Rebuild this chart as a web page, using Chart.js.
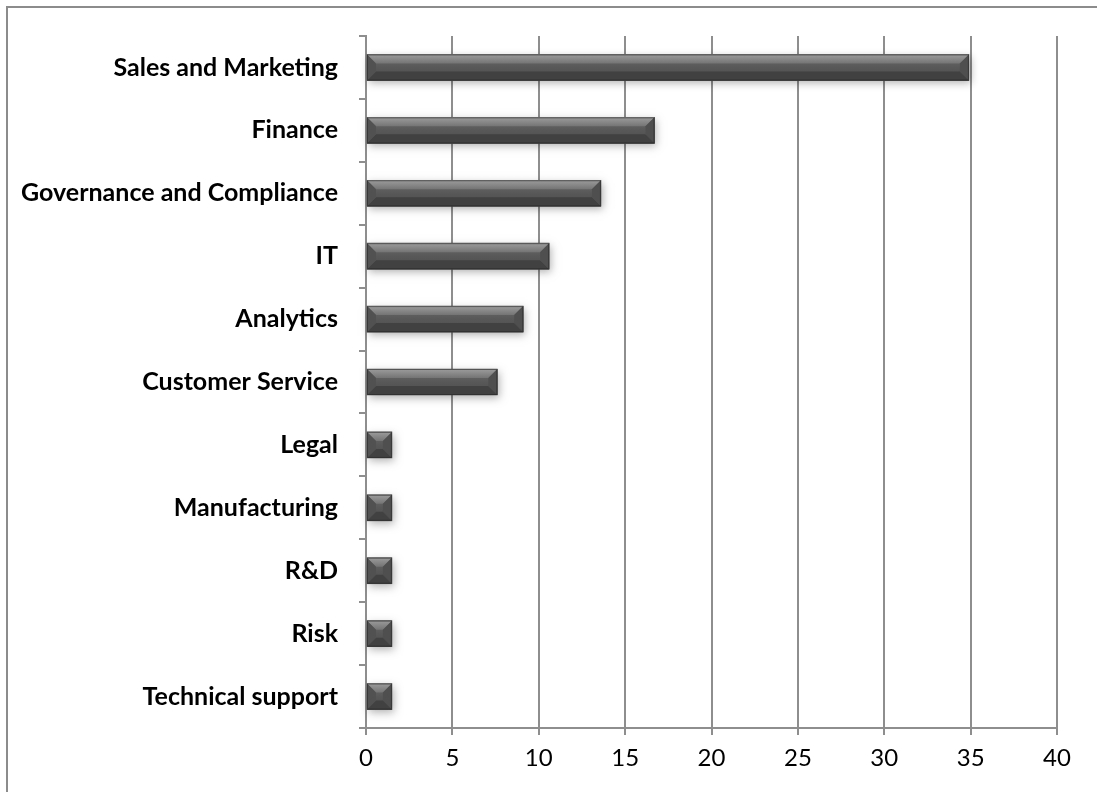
<!DOCTYPE html>
<html>
<head>
<meta charset="utf-8">
<script src="https://cdn.jsdelivr.net/npm/chart.js@4"></script>
<style>
  html, body { margin: 0; padding: 0; background: #fff; }
  #wrap { position: relative; width: 1097px; height: 792px; overflow: hidden; }
  #frame { position: absolute; left: 6px; top: 6px; width: 1200px; height: 900px;
           border: 2px solid #8c8c8c; pointer-events: none; }
</style>
</head>
<body>
<div id="wrap">
  <canvas id="main_chart" width="1097" height="792"></canvas>
  <div id="frame"></div>
</div>
<script>
const departments = [
  'Sales and Marketing', 'Finance', 'Governance and Compliance', 'IT', 'Analytics',
  'Customer Service', 'Legal', 'Manufacturing', 'R&D', 'Risk', 'Technical support'
];
const shares = [34.9, 16.7, 13.6, 10.6, 9.1, 7.6, 1.5, 1.5, 1.5, 1.5, 1.5];
const xTicks = [0, 5, 10, 15, 20, 25, 30, 35, 40];

const gridGray = '#8e8e8e';
const labelFont = 'Lato';

// paints each bar as a bevelled block with a soft drop shadow
const bevelBars = {
  id: 'bevelBars',
  afterDatasetsDraw(chart) {
    const ctx = chart.ctx;
    chart.getDatasetMeta(0).data.forEach(bar => {
      const left = Math.min(bar.base, bar.x);
      const right = Math.max(bar.base, bar.x);
      const top = bar.y - bar.height / 2;
      const bottom = bar.y + bar.height / 2;
      const w = right - left;
      const h = bottom - top;
      const b = Math.min(9, w / 2, h / 2);

      ctx.save();
      ctx.shadowColor = 'rgba(0,0,0,0.3)';
      ctx.shadowBlur = 8;
      ctx.shadowOffsetX = 2;
      ctx.shadowOffsetY = 3;
      ctx.fillStyle = '#4a4a4a';
      ctx.fillRect(left, top, w, h);
      ctx.restore();

      // face
      const face = ctx.createLinearGradient(0, top, 0, bottom);
      face.addColorStop(0, '#6c6c6c');
      face.addColorStop(0.5, '#585858');
      face.addColorStop(1, '#4c4c4c');
      ctx.fillStyle = face;
      ctx.fillRect(left, top, w, h);

      const facet = (pts, fill) => {
        ctx.beginPath();
        ctx.moveTo(pts[0][0], pts[0][1]);
        for (let i = 1; i < pts.length; i++) ctx.lineTo(pts[i][0], pts[i][1]);
        ctx.closePath();
        ctx.fillStyle = fill;
        ctx.fill();
      };

      const topShade = ctx.createLinearGradient(0, top, 0, top + b);
      topShade.addColorStop(0, '#9c9c9c');
      topShade.addColorStop(1, '#747474');
      facet([[left, top], [right, top], [right - b, top + b], [left + b, top + b]], topShade);
      facet([[left, bottom], [right, bottom], [right - b, bottom - b], [left + b, bottom - b]], '#414141');
      facet([[left, top], [left + b, top + b], [left + b, bottom - b], [left, bottom]], '#515151');
      facet([[right, top], [right - b, top + b], [right - b, bottom - b], [right, bottom]], '#4f4f4f');

      ctx.strokeStyle = 'rgba(40,40,40,0.6)';
      ctx.lineWidth = 1;
      ctx.strokeRect(left + 0.5, top + 0.5, w - 1, h - 1);
    });
  }
};

new Chart(document.getElementById('main_chart'), {
  type: 'bar',
  data: {
    labels: departments,
    datasets: [{
      data: shares,
      backgroundColor: '#555555',
      borderWidth: 0,
      barThickness: 26
    }]
  },
  options: {
    indexAxis: 'y',
    responsive: false,
    animation: false,
    layout: { padding: { top: 35, right: 40, left: 0, bottom: 0 } },
    plugins: {
      legend: { display: false },
      tooltip: { enabled: false }
    },
    scales: {
      x: {
        min: 0,
        max: 40,
        afterBuildTicks(scale) {
          scale.ticks = xTicks.map(v => ({ value: v }));
        },
        ticks: { color: '#000', font: { family: labelFont, size: 24 }, padding: 9 },
        grid: { color: gridGray, lineWidth: 2, tickLength: 7 },
        border: { color: gridGray, width: 2 },
        afterFit(scale) { scale.height = 64; }
      },
      y: {
        ticks: { color: '#000', font: { family: labelFont, size: 25, weight: 'bold' }, padding: 21 },
        grid: { drawOnChartArea: false, color: gridGray, lineWidth: 2, tickLength: 7, offset: true },
        border: { color: gridGray, width: 2 },
        afterFit(scale) { scale.width = 366; }
      }
    }
  },
  plugins: [bevelBars]
});
</script>
</body>
</html>
